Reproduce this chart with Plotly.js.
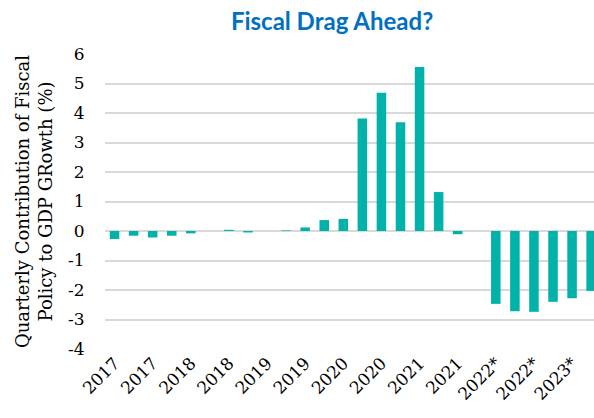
<!DOCTYPE html>
<html>
<head>
<meta charset="utf-8">
<script src="https://cdn.plot.ly/plotly-3.0.1.min.js"></script>
<style>html,body{margin:0;padding:0;background:#fff;}#chart{width:594px;height:418px;}</style>
</head>
<body>
<div id="chart"></div>
<script>
const quarters = ["2017 Q1","2017 Q2","2017 Q3","2017 Q4","2018 Q1","2018 Q2","2018 Q3","2018 Q4",
  "2019 Q1","2019 Q2","2019 Q3","2019 Q4","2020 Q1","2020 Q2","2020 Q3","2020 Q4",
  "2021 Q1","2021 Q2","2021 Q3","2021 Q4","2022 Q1*","2022 Q2*","2022 Q3*","2022 Q4*","2023 Q1*","2023 Q2*"];
const fiscalContribution = [-0.27,-0.16,-0.22,-0.16,-0.08,0,0.04,-0.05,
  0,0.02,0.12,0.37,0.41,3.81,4.69,3.69,
  5.56,1.32,-0.11,0,-2.47,-2.72,-2.74,-2.40,-2.28,-2.03];
const tickQuarters = ["2017 Q1","2017 Q3","2018 Q1","2018 Q3","2019 Q1","2019 Q3","2020 Q1","2020 Q3","2021 Q1","2021 Q3","2022 Q1*","2022 Q3*","2023 Q1*"];
const tickLabels = ["2017","2017","2018","2018","2019","2019","2020","2020","2021","2021","2022*","2022*","2023*"];
const yTicks = [-4,-3,-2,-1,0,1,2,3,4,5,6];
const yTickLabels = ["-4","-3","-2","-1","0","1","2","3","4","5","6"];

const serif = "DejaVu Serif, Liberation Serif, serif";
const data = [{
  type: 'bar',
  x: quarters,
  y: fiscalContribution,
  marker: {color: '#00B2A9'},
  hoverinfo: 'x+y'
}];
const layout = {
  width: 594, height: 418,
  margin: {l: 105, r: 0, t: 54, b: 69},
  paper_bgcolor: '#fff', plot_bgcolor: '#fff',
  bargap: 0.5,
  showlegend: false,
  title: {text: '<b>Fiscal Drag Ahead?</b>', font: {family: 'Lato, Open Sans, sans-serif', size: 24, color: '#0070C0'},
    xref: 'container', x: 0.559, xanchor: 'center', yref: 'container', y: 0.948, yanchor: 'middle'},
  xaxis: {
    type: 'category',
    range: [-0.5, 25.15],
    tickmode: 'array', tickvals: tickQuarters, ticktext: tickLabels,
    tickangle: -45,
    ticks: '',
    tickfont: {family: serif, size: 17, color: '#000'},
    showgrid: false, showline: false, zeroline: false
  },
  yaxis: {
    range: [-4, 6],
    tickmode: 'array', tickvals: yTicks, ticktext: yTickLabels,
    ticks: 'outside', ticklen: 16, tickcolor: 'rgba(0,0,0,0)',
    tickfont: {family: serif, size: 17, color: '#000'},
    showgrid: true, gridcolor: '#D9D9D9', gridwidth: 2,
    zeroline: true, zerolinecolor: '#D9D9D9', zerolinewidth: 2,
    showline: false,
    title: {text: 'Quarterly Contribution of Fiscal<br>Policy to GDP GRowth (%)', font: {family: serif, size: 18, color: '#000'}, standoff: 10}
  }
};
Plotly.newPlot('chart', data, layout, {displayModeBar: false, staticPlot: true});
</script>
</body>
</html>
